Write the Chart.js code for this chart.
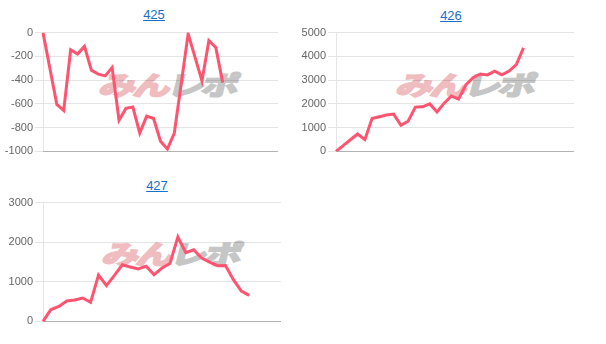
<!DOCTYPE html>
<html>
<head>
<meta charset="utf-8">
<script src="https://cdn.jsdelivr.net/npm/chart.js@4"></script>
<style>
  html, body { margin: 0; padding: 0; background: #fff; width: 606px; height: 344px; overflow: hidden; }
  .title { position: absolute; font-family: "Liberation Sans", Arial, sans-serif; font-size: 13px; color: #1a6fc9; text-decoration: underline; text-align: center; width: 60px; line-height: 16px; }
  .wm { position: absolute; white-space: nowrap; font-family: "Noto Sans CJK JP", sans-serif; font-weight: 700; font-size: 26px; line-height: 28px; transform: translate(-50%, -50%) skewX(-14deg) scaleX(1.42); letter-spacing: -2px; z-index: 0; }
  .wm .a { color: #efbcc0; -webkit-text-stroke: 2px #efbcc0; }
  .wm .b { color: #c6c6c6; -webkit-text-stroke: 2px #c6c6c6; }
  canvas { position: absolute; z-index: 1; }
</style>
</head>
<body>
<a class="title" style="left:124px; top:7px;">425</a>
<a class="title" style="left:421px; top:8px;">426</a>
<a class="title" style="left:127px; top:178px;">427</a>

<div class="wm" style="left:169px; top:84px;"><span class="a">みん</span><span class="b">レポ</span></div>
<div class="wm" style="left:466px; top:84px;"><span class="a">みん</span><span class="b">レポ</span></div>
<div class="wm" style="left:172px; top:253px;"><span class="a">みん</span><span class="b">レポ</span></div>

<canvas id="c425" style="left:0px; top:24px;" width="278" height="136"></canvas>
<canvas id="c426" style="left:293px; top:24px;" width="281" height="136"></canvas>
<canvas id="c427" style="left:0px; top:194px;" width="281" height="136"></canvas>

<script>
// ---- data ----
const labels425 = ["1","2","3","4","5","6","7","8","9","10","11","12","13","14","15","16","17","18","19","20","21","22","23","24","25","26","27","28","29","30","31","32","33","34","35"];
const values425 = [0, -302, -604, -655, -144, -181, -116, -316, -350, -364, -294, -737, -638, -627, -845, -703, -723, -915, -980, -845, -428, -11, -209, -407, -68, -125, -421];
const ticks425 = { min: -1000, max: 0, step: 200 };

const labels426 = ["1","2","3","4","5","6","7","8","9","10","11","12","13","14","15","16","17","18","19","20","21","22","23","24","25","26","27","28","29","30","31","32","33","34"];
const values426 = [0, 244, 489, 733, 496, 1380, 1460, 1530, 1570, 1100, 1271, 1864, 1877, 2000, 1660, 2030, 2330, 2200, 2800, 3100, 3260, 3220, 3380, 3220, 3380, 3650, 4360];
const ticks426 = { min: 0, max: 5000, step: 1000 };

const labels427 = ["1","2","3","4","5","6","7","8","9","10","11","12","13","14","15","16","17","18","19","20","21","22","23","24","25","26","27","28","29","30","31"];
const values427 = [0, 300, 379, 515, 540, 590, 480, 1170, 905, 1160, 1430, 1375, 1325, 1395, 1179, 1347, 1460, 2130, 1735, 1810, 1600, 1495, 1406, 1410, 1053, 765, 657];
const ticks427 = { min: 0, max: 3000, step: 1000 };

const lineColor = 'rgb(255, 84, 112)';

function makeChart(id, labels, values, t) {
  return new Chart(document.getElementById(id), {
    type: 'line',
    data: {
      labels: labels,
      datasets: [{
        data: values,
        borderColor: lineColor,
        backgroundColor: lineColor,
        borderWidth: 3,
        pointRadius: 0,
        tension: 0,
        fill: false
      }]
    },
    options: {
      responsive: false,
      animation: false,
      devicePixelRatio: 1,
      plugins: { legend: { display: false }, title: { display: false }, tooltip: { enabled: false } },
      layout: { padding: 0 },
      scales: {
        x: {
          grid: { display: false },
          ticks: { display: false },
          border: { display: true, color: 'rgba(0,0,0,0.22)', width: 1 }
        },
        y: {
          min: t.min, max: t.max,
          afterFit: (s) => { s.width = 43; },
          ticks: { stepSize: t.step, color: '#666', padding: 2, font: { family: "'Liberation Sans', Arial, sans-serif", size: 11 },
                   callback: (v) => String(v) },
          grid: { color: 'rgba(0,0,0,0.1)', tickLength: 8 },
          border: { color: 'rgba(0,0,0,0.1)' }
        }
      }
    }
  });
}

makeChart('c425', labels425, values425, ticks425);
makeChart('c426', labels426, values426, ticks426);
makeChart('c427', labels427, values427, ticks427);
</script>
</body>
</html>
